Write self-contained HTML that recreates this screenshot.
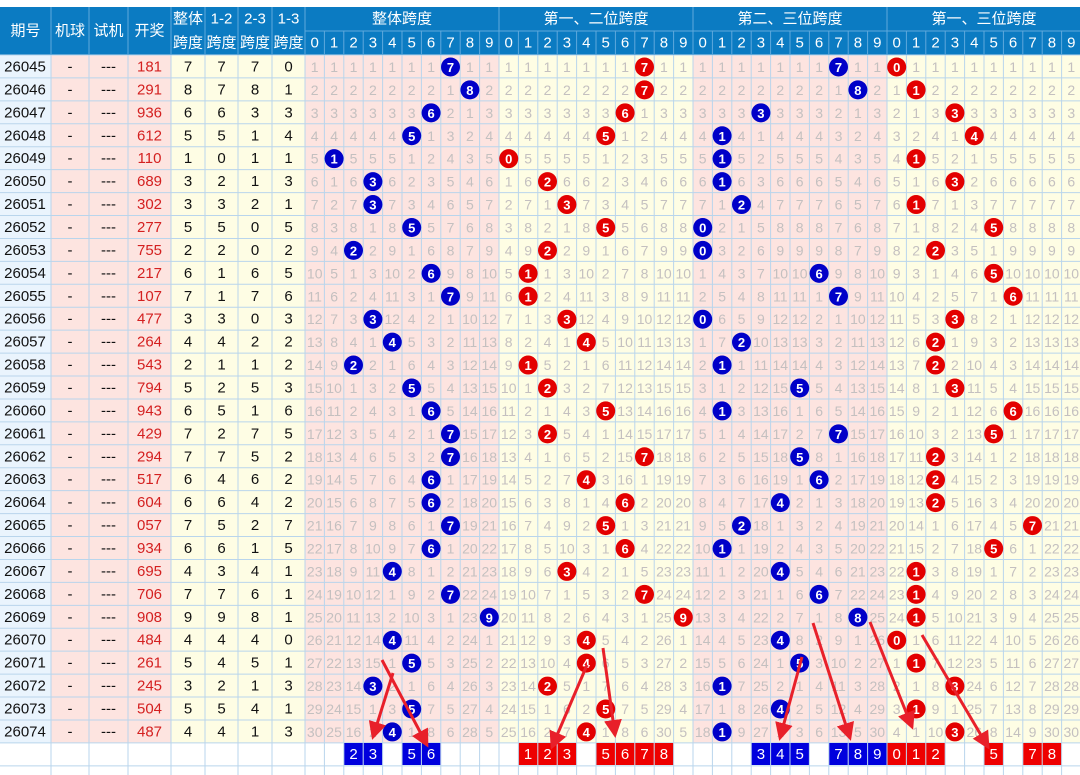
<!DOCTYPE html>
<html><head><meta charset="utf-8"><style>
body{margin:0;background:#fff;width:1080px;height:775px;overflow:hidden}
svg{display:block;font-family:"Liberation Sans","Noto Sans CJK SC",sans-serif}
</style></head><body>
<svg id="s" width="1080" height="775" xmlns="http://www.w3.org/2000/svg"></svg>
<script>
var D=[["26045","181",7,7,7,0],["26046","291",8,7,8,1],["26047","936",6,6,3,3],["26048","612",5,5,1,4],["26049","110",1,0,1,1],["26050","689",3,2,1,3],["26051","302",3,3,2,1],["26052","277",5,5,0,5],["26053","755",2,2,0,2],["26054","217",6,1,6,5],["26055","107",7,1,7,6],["26056","477",3,3,0,3],["26057","264",4,4,2,2],["26058","543",2,1,1,2],["26059","794",5,2,5,3],["26060","943",6,5,1,6],["26061","429",7,2,7,5],["26062","294",7,7,5,2],["26063","517",6,4,6,2],["26064","604",6,6,4,2],["26065","057",7,5,2,7],["26066","934",6,6,1,5],["26067","695",4,3,4,1],["26068","706",7,7,6,1],["26069","908",9,9,8,1],["26070","484",4,4,4,0],["26071","261",5,4,5,1],["26072","245",3,2,1,3],["26073","504",5,5,4,1],["26074","487",4,4,1,3]];
var L=[0,51,89,128,171,205,238,272,305],CW=19.4,G0=305,RH=22.93,Y0=55;
var o=[];
function R(x,y,w,h,f,s){o.push('<rect x="'+x+'" y="'+y+'" width="'+w+'" height="'+h+'" fill="'+f+'"'+(s?' stroke="'+s+'" stroke-width="1"':'')+'/>');}
function T(x,y,t,c,sz,w){o.push('<text x="'+x+'" y="'+y+'" fill="'+c+'" font-size="'+sz+'" text-anchor="middle" dominant-baseline="central"'+(w?' font-weight="bold"':'')+'>'+t+'</text>');}
var HB="#0b7bc2",HL="#5fa9dc",GL="#b9d5ec";
// header
R(0,7,1080,48,HB);
var hn=["期号","机球","试机","开奖"];
for(var i=0;i<4;i++){T((L[i]+L[i+1])/2,31,hn[i],"#fff",15);}
var h2=["整体","1-2","2-3","1-3"];
for(var i=0;i<4;i++){T((L[i+4]+L[i+5])/2,19,h2[i],"#fff",15);T((L[i+4]+L[i+5])/2,43,"跨度","#fff",15);}
var gn=["整体跨度","第一、二位跨度","第二、三位跨度","第一、三位跨度"];
for(var g=0;g<4;g++){T(G0+g*194+97,19,gn[g],"#fff",15);for(var k=0;k<10;k++)T(G0+(g*10+k)*CW+CW/2,43,k,"#fff",15);}
// bodies
var gbg=["#fde4e0","#fefde4","#fde4e0","#fefde4"];
var ballc=["#0000c8","#e30000","#0000c8","#e30000"];
var lbg=["#eaf4fd","#fde4e0","#fde4e0","#fde4e0","#fefde4","#fefde4","#fefde4","#fefde4"];
var H=30*RH;
for(var i=0;i<8;i++)R(L[i],Y0,L[i+1]-L[i],H,lbg[i]);
for(var g=0;g<4;g++)R(G0+g*194,Y0,194,H,gbg[g]);
// grid lines
var gl=[];
for(var r=0;r<=31;r++){var y=Y0+r*RH;gl.push('<line x1="0" y1="'+y+'" x2="1080" y2="'+y+'" stroke="'+GL+'"/>');}
for(var i=1;i<=8;i++)gl.push('<line x1="'+L[i]+'" y1="'+Y0+'" x2="'+L[i]+'" y2="775" stroke="'+GL+'"/>');
for(var c=1;c<40;c++){var x=G0+c*CW;gl.push('<line x1="'+x+'" y1="'+Y0+'" x2="'+x+'" y2="775" stroke="'+GL+'"/>');}
o.push(gl.join(''));
// header internal lines
for(var i=1;i<=8;i++)o.push('<line x1="'+L[i]+'" y1="7" x2="'+L[i]+'" y2="55" stroke="'+HL+'"/>');
o.push('<line x1="305" y1="31" x2="1080" y2="31" stroke="'+HL+'"/>');
for(var c=1;c<40;c++){var x=G0+c*CW;o.push('<line x1="'+x+'" y1="'+(c%10==0?7:31)+'" x2="'+x+'" y2="55" stroke="'+HL+'"/>');}
// data
var miss=[];for(var c=0;c<40;c++)miss[c]=0;
for(var r=0;r<30;r++){var d=D[r],cy=Y0+r*RH+RH/2+0.5;
 T(25,cy,d[0],"#111",15);T(70,cy,"-","#111",15);T(108.5,cy,"---","#111",15);T(149.5,cy,d[1],"#d42020",15);
 for(var k=0;k<4;k++)T((L[k+4]+L[k+5])/2,cy,d[k+2],"#111",15);
 for(var g=0;g<4;g++){var v=d[g+2];
  for(var k=0;k<10;k++){var c=g*10+k,cx=G0+c*CW+CW/2;
   if(k==v){miss[c]=0;o.push('<circle cx="'+cx+'" cy="'+cy+'" r="9.5" fill="'+ballc[g]+'"/>');T(cx,cy+0.5,k,"#fff",13,1);}
   else{miss[c]++;T(cx,cy,miss[c],"#c4c0c0",14);}
  }}
}
// bottom boxes
var bx=[[2,3,5,6],[1,2,3,5,6,7,8],[3,4,5,7,8,9],[0,1,2,5,7,8]];
for(var g=0;g<4;g++)bx[g].forEach(function(k){var x=G0+(g*10+k)*CW;R(x+0.5,743,CW-1,22,ballc[g]=="#0000c8"?"#0000dd":"#ee0000");T(x+CW/2,754.5,k,"#fff",15);});
// arrows
var A=[[382,660,427,745],[393,673,373,737],[587,665,552,747],[603,648,615,735],[813,623,850,738],[802,657,780,738],[870,622,912,727],[922,635,988,747]];
o.push('<defs><marker id="m" markerWidth="6" markerHeight="6" refX="5" refY="3" orient="auto" markerUnits="strokeWidth"><path d="M0,0 L6,3 L0,6 z" fill="#e8202a"/></marker></defs>');
A.forEach(function(a){o.push('<line x1="'+a[0]+'" y1="'+a[1]+'" x2="'+a[2]+'" y2="'+a[3]+'" stroke="#e8202a" stroke-width="3" marker-end="url(#m)"/>');});
document.getElementById('s').innerHTML=o.join('');
</script>
</body></html>
